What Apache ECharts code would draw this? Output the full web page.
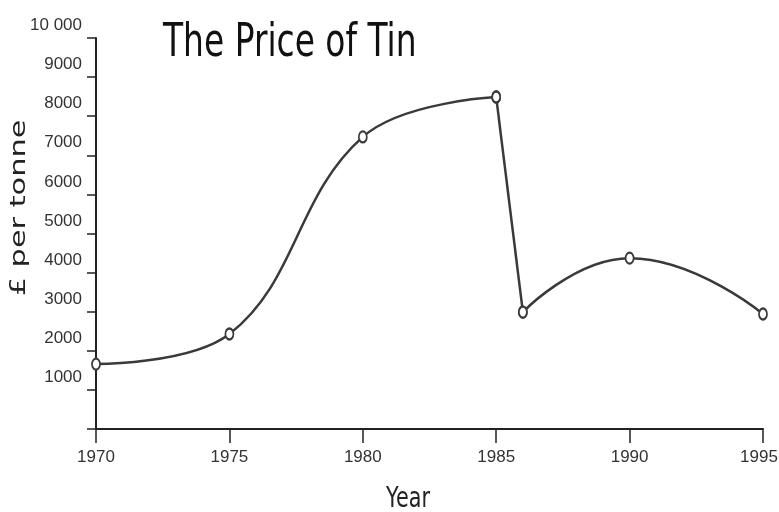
<!DOCTYPE html>
<html>
<head>
<meta charset="utf-8">
<script src="https://cdn.jsdelivr.net/npm/echarts@6/dist/echarts.min.js"></script>
<style>
html,body{margin:0;padding:0;background:#fff;}
#main{width:779px;height:512px;}
</style>
</head>
<body>
<div id="main"></div>
<script>
var years = [1970, 1975, 1980, 1985, 1986, 1990, 1995];
var prices = [1660, 2430, 7470, 8490, 2990, 4370, 2940];
var xTicks = [1970, 1975, 1980, 1985, 1990, 1995];
var yTicks = [0, 1000, 2000, 3000, 4000, 5000, 6000, 7000, 8000, 9000, 10000];

// the curve is drawn smooth up to 1985, straight for the crash, smooth after
function piece(from, to)
{
	var arr = [];
	for (var i = from; i <= to; i++) {
		arr.push([years[i], prices[i]]);
	}
	return arr;
}

var lineColor = '#3a3a3a';

function lineSeries(data, smooth)
{
	return {
		type: 'line',
		data: data,
		smooth: smooth,
		symbol: 'emptyCircle',
		symbolSize: [8, 11],
		lineStyle: {color: lineColor, width: 2.5},
		itemStyle: {color: lineColor, borderWidth: 1.5},
		z: 2
	};
}

var myChart = echarts.init(document.getElementById('main'));

var option = {
	backgroundColor: '#fff',
	animation: false,
	grid: {
		left: 96,
		right: 16,
		top: 38,
		bottom: 83,
		outerBoundsMode: 'none'
	},
	graphic: [
		{
			type: 'text',
			x: 163,
			y: 20,
			scaleX: 0.7,
			style: {
				text: 'The Price of Tin',
				font: '47px "DejaVu Sans"',
				fill: '#111',
				textVerticalAlign: 'top'
			}
		},
		{
			type: 'text',
			x: 19,
			y: 208,
			rotation: Math.PI / 2,
			scaleX: 1.38,
			style: {
				text: '£ per tonne',
				font: '22px "DejaVu Sans"',
				fill: '#222',
				textAlign: 'center',
				textVerticalAlign: 'middle'
			}
		},
		{
			type: 'text',
			x: 408,
			y: 500,
			scaleX: 0.74,
			style: {
				text: 'Year',
				font: '28px "DejaVu Sans"',
				fill: '#222',
				textAlign: 'center',
				textVerticalAlign: 'middle'
			}
		}
	],
	xAxis: {
		type: 'value',
		min: xTicks[0],
		max: xTicks[xTicks.length - 1],
		interval: 5,
		splitLine: {show: false},
		axisLine: {lineStyle: {color: '#222', width: 2}},
		axisTick: {show: true, length: 14, lineStyle: {color: '#222', width: 1.5}},
		axisLabel: {
			margin: 20,
			color: '#333',
			fontFamily: 'Liberation Sans',
			fontSize: 17,
			formatter: function (v) {
				if (xTicks.indexOf(v) < 0) return '';
				if (v === xTicks[xTicks.length - 1]) return '{last|' + v + '}';
				return String(v);
			},
			rich: {
				last: {
					color: '#333',
					fontFamily: 'Liberation Sans',
					fontSize: 17,
					padding: [0, 8, 0, 0]
				}
			}
		}
	},
	yAxis: {
		type: 'value',
		min: yTicks[0],
		max: yTicks[yTicks.length - 1],
		interval: 1000,
		splitLine: {show: false},
		axisLine: {show: true, lineStyle: {color: '#222', width: 2}},
		axisTick: {show: true, length: 9, lineStyle: {color: '#222', width: 1.5}},
		axisLabel: {
			margin: 14,
			color: '#333',
			fontFamily: 'Liberation Sans',
			fontSize: 17,
			verticalAlign: 'bottom',
			padding: [0, 0, 4, 0],
			formatter: function (v) {
				if (v === 0) return '';
				if (v === 10000) return '10 000';
				return String(v);
			}
		}
	},
	series: [
		lineSeries(piece(0, 3), 0.4),
		lineSeries(piece(3, 4), false),
		lineSeries(piece(4, 6), 0.5)
	]
};

myChart.setOption(option);
</script>
</body>
</html>
